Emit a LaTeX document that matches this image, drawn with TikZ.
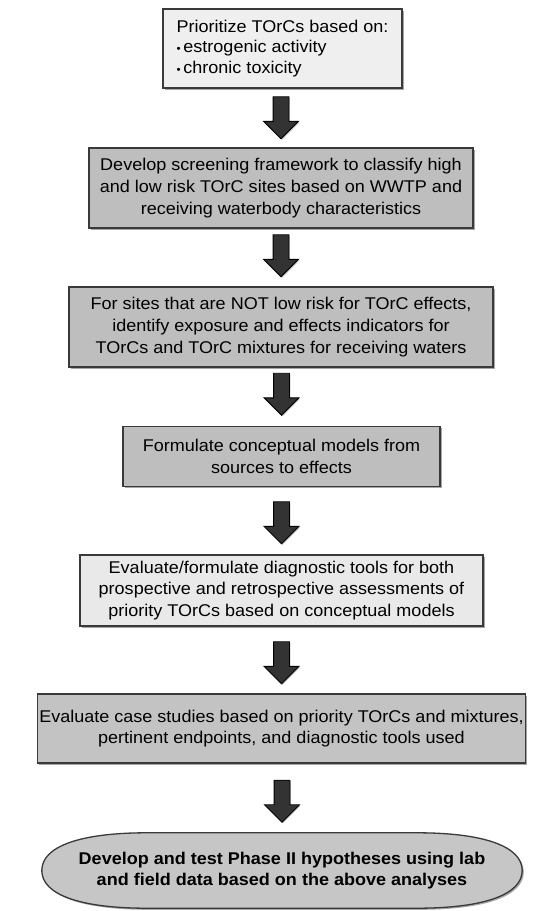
\documentclass[tikz,border=0pt]{standalone}
\usepackage{fontspec}
\setmainfont{Liberation Sans}[FakeStretch=1.06]
\usetikzlibrary{shapes.arrows,shadows,calc,backgrounds}
\definecolor{lightbox}{HTML}{EFEFEF}
\definecolor{midbox}{HTML}{BEBEBE}
\definecolor{paleBox}{HTML}{E9E9E9}
\definecolor{termbox}{HTML}{C6C6C6}
\definecolor{edgecol}{HTML}{3A3A3A}
\definecolor{arrowcol}{HTML}{333333}
\tikzset{
  boxstyle/.style={draw=edgecol, line width=1.3pt, align=center, inner sep=2pt,
    font=\fontsize{17}{21.6}\selectfont,
    drop shadow={shadow xshift=1.6pt, shadow yshift=-1.6pt, fill=black, opacity=0.35}},
  bigarrow/.style={single arrow, shape border rotate=270, draw=black, fill=arrowcol,
    line width=0.8pt, minimum height=42pt, inner sep=7.5pt, single arrow head extend=9.5pt,
    anchor=tip, drop shadow={shadow xshift=1pt, shadow yshift=-1pt, fill=black, opacity=0.25}},
}
\begin{document}
\begin{tikzpicture}[x=1pt,y=-1pt]
\useasboundingbox (0,0) rectangle (545,911);

\node[boxstyle, fill=lightbox, minimum width=239pt, minimum height=79pt, align=left] (b1) at (282.5,48.5)
  {Prioritize TOrCs based on:\\[-1pt]
   {\fontsize{11}{12}\selectfont\textbullet}\,estrogenic activity\\[-1pt]
   {\fontsize{11}{12}\selectfont\textbullet}\,chronic toxicity};

\node[boxstyle, fill=midbox, minimum width=384pt, minimum height=80pt] (b2) at (281,188)
  {Develop screening framework to classify high\\and low risk TOrC sites based on WWTP and\\receiving waterbody characteristics};

\node[boxstyle, fill=midbox, minimum width=424pt, minimum height=80pt] (b3) at (281,327)
  {For sites that are NOT low risk for TOrC effects,\\identify exposure and effects indicators for\\TOrCs and TOrC mixtures for receiving waters};

\node[boxstyle, fill=midbox, minimum width=317pt, minimum height=60pt] (b4) at (281.5,456.5)
  {Formulate conceptual models from\\sources to effects};

\node[boxstyle, fill=paleBox, minimum width=403pt, minimum height=71pt] (b5) at (281.5,590.5)
  {Evaluate/formulate diagnostic tools for both\\prospective and retrospective assessments of\\priority TOrCs based on conceptual models};

\node[boxstyle, fill=midbox!93!white, minimum width=487pt, minimum height=69pt] (b6) at (281.5,728.5)
  {Evaluate case studies based on priority TOrCs and mixtures,\\pertinent endpoints, and diagnostic tools used};

\node[align=center, minimum width=480pt, minimum height=75pt, inner sep=0pt,
  font=\bfseries\fontsize{17}{21.6}\selectfont] (b7) at (282,870.5)
  {Develop and test Phase II hypotheses using lab\\and field data based on the above analyses};

\begin{scope}[on background layer]
\fill[white] (0,0) rectangle (545,911);
\path[draw=edgecol, line width=1.3pt, fill=termbox,
  drop shadow={shadow xshift=1.6pt, shadow yshift=-1.6pt, fill=black, opacity=0.35}]
  (b7.west) .. controls ($(b7.west)+(0,-24)$) and ($(b7.north west)+(38,0)$) .. ($(b7.north west)+(105,0)$)
  -- ($(b7.north east)+(-105,0)$)
  .. controls ($(b7.north east)+(-38,0)$) and ($(b7.east)+(0,-24)$) .. (b7.east)
  .. controls ($(b7.east)+(0,24)$) and ($(b7.south east)+(-38,0)$) .. ($(b7.south east)+(-105,0)$)
  -- ($(b7.south west)+(105,0)$)
  .. controls ($(b7.south west)+(38,0)$) and ($(b7.west)+(0,24)$) .. (b7.west) -- cycle;
\end{scope}

\node[bigarrow] (a1) at ($(b2.north)+(0,-8)$) {};
\node[bigarrow] (a2) at ($(b3.north)+(0,-9)$) {};
\node[bigarrow] (a3) at ($(b4.north)+(0,-10)$) {};
\node[bigarrow] (a4) at ($(b5.north)+(0,-10)$) {};
\node[bigarrow] (a5) at ($(b6.north)+(0,-9)$) {};
\node[bigarrow] (a6) at ($(b7.north)+(0,-10)$) {};
\end{tikzpicture}
\end{document}
